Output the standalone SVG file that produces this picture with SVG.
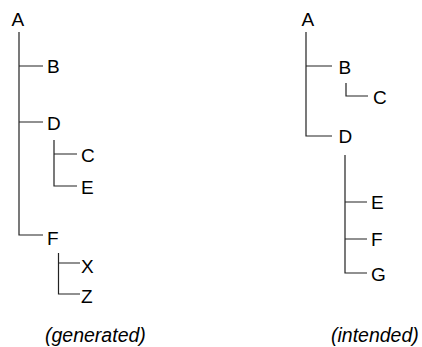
<svg xmlns="http://www.w3.org/2000/svg" width="422" height="347" viewBox="0 0 422 347">
<style>
.lbl{font-family:"Liberation Sans",Arial,sans-serif;font-size:19px;fill:#000}
.cap{font-family:"Liberation Sans",Arial,sans-serif;font-size:19.5px;font-style:italic;fill:#000}
.edge{fill:none;stroke:#222;stroke-width:1.2}
</style>
<rect width="422" height="347" fill="#fff"/>
<g id="connectors">
<path class="edge" d="M19 32V235H43M19 66H43M19 122H43"/>
<path class="edge" d="M54 140V186H77M54 154H77"/>
<path class="edge" d="M58.5 253V294H80M58.5 263H80"/>
<path class="edge" d="M306 32V136H332M306 66H332"/>
<path class="edge" d="M346 83V96H368"/>
<path class="edge" d="M345 155V273H367M345 202H367M345 239H367"/>
</g>
<g id="gen-A"><text class="lbl" x="11.5" y="26">A</text></g>
<g id="gen-B"><text class="lbl" x="47" y="73">B</text></g>
<g id="gen-D"><text class="lbl" x="47" y="129.5">D</text></g>
<g id="gen-C"><text class="lbl" x="81" y="161.5">C</text></g>
<g id="gen-E"><text class="lbl" x="81" y="193.5">E</text></g>
<g id="gen-F"><text class="lbl" x="47" y="245">F</text></g>
<g id="gen-X"><text class="lbl" x="81" y="272.5">X</text></g>
<g id="gen-Z"><text class="lbl" x="81" y="303">Z</text></g>
<g id="int-A"><text class="lbl" x="301.5" y="26">A</text></g>
<g id="int-B"><text class="lbl" x="338.5" y="73.5">B</text></g>
<g id="int-C"><text class="lbl" x="373" y="104">C</text></g>
<g id="int-D"><text class="lbl" x="338.5" y="143">D</text></g>
<g id="int-E"><text class="lbl" x="371" y="209">E</text></g>
<g id="int-F"><text class="lbl" x="371" y="246">F</text></g>
<g id="int-G"><text class="lbl" x="371" y="280.5">G</text></g>
<text class="cap" x="45" y="342">(generated)</text>
<text class="cap" x="331" y="342">(intended)</text>
</svg>
